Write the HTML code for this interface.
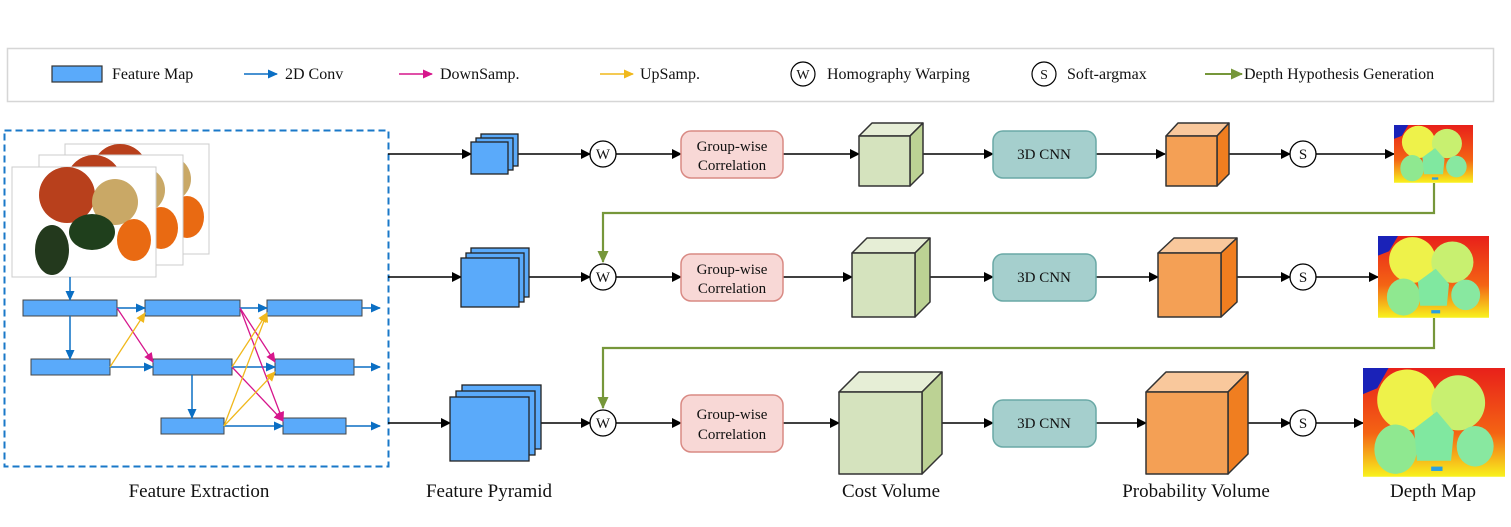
<!DOCTYPE html>
<html><head><meta charset="utf-8"><style>
html,body{margin:0;padding:0;background:#fff}
svg{display:block}
text{font-family:"Liberation Serif",serif;fill:#111}
</style></head><body>
<svg width="1511" height="527" viewBox="0 0 1511 527" xmlns="http://www.w3.org/2000/svg">
<defs>
<marker id="ak" markerWidth="10" markerHeight="10" refX="9" refY="5" orient="auto" markerUnits="userSpaceOnUse"><path d="M0,0 L10,5 L0,10 z" fill="#000"/></marker>
<marker id="ab" markerWidth="10" markerHeight="10" refX="9" refY="5" orient="auto" markerUnits="userSpaceOnUse"><path d="M0,0.5 L10,5 L0,9.5 z" fill="#0b6fc4"/></marker>
<marker id="am" markerWidth="10" markerHeight="10" refX="9" refY="5" orient="auto" markerUnits="userSpaceOnUse"><path d="M0,0.5 L10,5 L0,9.5 z" fill="#d6168c"/></marker>
<marker id="ay" markerWidth="10" markerHeight="10" refX="9" refY="5" orient="auto" markerUnits="userSpaceOnUse"><path d="M0,0.5 L10,5 L0,9.5 z" fill="#f0b81c"/></marker>
<marker id="ag" markerWidth="12" markerHeight="12" refX="11" refY="6" orient="auto" markerUnits="userSpaceOnUse"><path d="M0,0.5 L12,6 L0,11.5 z" fill="#76973a"/></marker>
<g id="fruit">
<rect x="0" y="0" width="144" height="110" fill="#fff" stroke="#ccc" stroke-width="1"/>
<circle cx="55" cy="28" r="28" fill="#b8401c"/>
<circle cx="103" cy="35" r="23" fill="#c9a866"/>
<ellipse cx="40" cy="83" rx="17" ry="25" fill="#23391d"/>
<ellipse cx="80" cy="65" rx="23" ry="18" fill="#1f3f1c"/>
<ellipse cx="122" cy="73" rx="17" ry="21" fill="#e96a12"/>
</g>
<linearGradient id="dm" x1="0" y1="0" x2="0" y2="1"><stop offset="0" stop-color="#e8201a"/><stop offset="0.6" stop-color="#f46414"/><stop offset="1" stop-color="#f8f21e"/></linearGradient>
<g id="depth">
<rect x="0" y="0" width="100" height="75" fill="url(#dm)"/>
<path d="M0,0 L18,0 L10,14 L0,18z" fill="#1a22b8"/>
<circle cx="31" cy="22" r="21" fill="#eef24a"/>
<circle cx="67" cy="24" r="19" fill="#c8f070"/>
<ellipse cx="23" cy="56" rx="15" ry="17" fill="#8fe890"/>
<path d="M36,42 L52,30 L64,44 L62,64 L38,64z" fill="#80e8a0"/>
<ellipse cx="79" cy="54" rx="13" ry="14" fill="#88e8a0"/>
<rect x="48" y="68" width="8" height="3" fill="#2aa0e0"/>
</g>
</defs>

<rect x="7.5" y="48.5" width="1486" height="53" fill="#fff" stroke="#d6d6d6" stroke-width="1.5"/>
<rect x="52" y="66" width="50" height="16" fill="#5aaafa" stroke="#333" stroke-width="1.2"/>
<text x="112" y="79" font-size="16">Feature Map</text>
<line x1="244" y1="74" x2="277" y2="74" stroke="#0b6fc4" stroke-width="1.6" marker-end="url(#ab)"/>
<text x="285" y="79" font-size="16">2D Conv</text>
<line x1="399" y1="74" x2="432" y2="74" stroke="#d6168c" stroke-width="1.6" marker-end="url(#am)"/>
<text x="440" y="79" font-size="16">DownSamp.</text>
<line x1="600" y1="74" x2="633" y2="74" stroke="#f0b81c" stroke-width="1.6" marker-end="url(#ay)"/>
<text x="640" y="79" font-size="16">UpSamp.</text>
<circle cx="803" cy="74" r="12" fill="#fff" stroke="#000" stroke-width="1.2"/>
<text x="803" y="79" font-size="14" text-anchor="middle">W</text>
<text x="827" y="79" font-size="16">Homography Warping</text>
<circle cx="1044" cy="74" r="12" fill="#fff" stroke="#000" stroke-width="1.2"/>
<text x="1044" y="79" font-size="14" text-anchor="middle">S</text>
<text x="1067" y="79" font-size="16">Soft-argmax</text>
<line x1="1205" y1="74" x2="1242" y2="74" stroke="#76973a" stroke-width="2" marker-end="url(#ag)"/>
<text x="1244" y="79" font-size="16">Depth Hypothesis Generation</text>

<rect x="4.5" y="130.5" width="384" height="336" fill="none" stroke="#1a78c8" stroke-width="2" stroke-dasharray="7,4"/>
<use href="#fruit" x="65" y="144"/>
<use href="#fruit" x="39" y="155"/>
<use href="#fruit" x="12" y="167"/>
<g fill="#5aaafa" stroke="#444" stroke-width="1">
<rect x="23" y="300" width="94" height="16"/><rect x="145" y="300" width="95" height="16"/><rect x="267" y="300" width="95" height="16"/>
<rect x="31" y="359" width="79" height="16"/><rect x="153" y="359" width="79" height="16"/><rect x="275" y="359" width="79" height="16"/>
<rect x="161" y="418" width="63" height="16"/><rect x="283" y="418" width="63" height="16"/>
</g>
<g stroke="#0b6fc4" stroke-width="1.5" fill="none">
<line x1="70" y1="277" x2="70" y2="300" marker-end="url(#ab)"/>
<line x1="70" y1="316" x2="70" y2="359" marker-end="url(#ab)"/>
<line x1="192" y1="375" x2="192" y2="418" marker-end="url(#ab)"/>
<line x1="117" y1="308" x2="145" y2="308" marker-end="url(#ab)"/>
<line x1="240" y1="308" x2="267" y2="308" marker-end="url(#ab)"/>
<line x1="362" y1="308" x2="380" y2="308" marker-end="url(#ab)"/>
<line x1="110" y1="367" x2="153" y2="367" marker-end="url(#ab)"/>
<line x1="232" y1="367" x2="275" y2="367" marker-end="url(#ab)"/>
<line x1="354" y1="367" x2="380" y2="367" marker-end="url(#ab)"/>
<line x1="224" y1="426" x2="283" y2="426" marker-end="url(#ab)"/>
<line x1="346" y1="426" x2="380" y2="426" marker-end="url(#ab)"/>
</g>
<g stroke="#d6168c" stroke-width="1.3" fill="none">
<line x1="117" y1="308" x2="153" y2="362" marker-end="url(#am)"/>
<line x1="240" y1="308" x2="275" y2="362" marker-end="url(#am)"/>
<line x1="240" y1="308" x2="283" y2="421" marker-end="url(#am)"/>
<line x1="232" y1="367" x2="283" y2="421" marker-end="url(#am)"/>
</g>
<g stroke="#f0b81c" stroke-width="1.3" fill="none">
<line x1="110" y1="367" x2="145" y2="313" marker-end="url(#ay)"/>
<line x1="232" y1="367" x2="267" y2="313" marker-end="url(#ay)"/>
<line x1="224" y1="426" x2="267" y2="313" marker-end="url(#ay)"/>
<line x1="224" y1="426" x2="275" y2="372" marker-end="url(#ay)"/>
</g>

<g stroke="#76973a" stroke-width="2.2" fill="none">
<polyline points="1434,183 1434,213 603,213 603,262" marker-end="url(#ag)"/>
<polyline points="1434,318 1434,348 603,348 603,408" marker-end="url(#ag)"/>
</g>

<g stroke="#000" stroke-width="1.6" fill="none">
<line x1="388" y1="154" x2="471" y2="154" marker-end="url(#ak)"/>
<line x1="518" y1="154" x2="590" y2="154" marker-end="url(#ak)"/>
<line x1="616" y1="154" x2="681" y2="154" marker-end="url(#ak)"/>
<line x1="783" y1="154" x2="859" y2="154" marker-end="url(#ak)"/>
<line x1="922" y1="154" x2="993" y2="154" marker-end="url(#ak)"/>
<line x1="1096" y1="154" x2="1165" y2="154" marker-end="url(#ak)"/>
<line x1="1228" y1="154" x2="1290" y2="154" marker-end="url(#ak)"/>
<line x1="1316" y1="154" x2="1394" y2="154" marker-end="url(#ak)"/>

<line x1="388" y1="277" x2="461" y2="277" marker-end="url(#ak)"/>
<line x1="529" y1="277" x2="590" y2="277" marker-end="url(#ak)"/>
<line x1="616" y1="277" x2="681" y2="277" marker-end="url(#ak)"/>
<line x1="783" y1="277" x2="852" y2="277" marker-end="url(#ak)"/>
<line x1="930" y1="277" x2="993" y2="277" marker-end="url(#ak)"/>
<line x1="1096" y1="277" x2="1158" y2="277" marker-end="url(#ak)"/>
<line x1="1237" y1="277" x2="1290" y2="277" marker-end="url(#ak)"/>
<line x1="1316" y1="277" x2="1378" y2="277" marker-end="url(#ak)"/>

<line x1="388" y1="423" x2="450" y2="423" marker-end="url(#ak)"/>
<line x1="541" y1="423" x2="590" y2="423" marker-end="url(#ak)"/>
<line x1="616" y1="423" x2="681" y2="423" marker-end="url(#ak)"/>
<line x1="783" y1="423" x2="839" y2="423" marker-end="url(#ak)"/>
<line x1="942" y1="423" x2="993" y2="423" marker-end="url(#ak)"/>
<line x1="1096" y1="423" x2="1146" y2="423" marker-end="url(#ak)"/>
<line x1="1248" y1="423" x2="1290" y2="423" marker-end="url(#ak)"/>
<line x1="1316" y1="423" x2="1363" y2="423" marker-end="url(#ak)"/>
</g>

<g fill="#5aaafa" stroke="#222" stroke-width="1.3">
<rect x="481" y="134" width="37" height="32"/><rect x="476" y="138" width="37" height="32"/><rect x="471" y="142" width="37" height="32"/>
<rect x="471" y="248" width="58" height="49"/><rect x="466" y="253" width="58" height="49"/><rect x="461" y="258" width="58" height="49"/>
<rect x="462" y="385" width="79" height="64"/><rect x="456" y="391" width="79" height="64"/><rect x="450" y="397" width="79" height="64"/>
</g>

<g font-size="15" text-anchor="middle">
<circle cx="603" cy="154" r="13" fill="#fff" stroke="#000" stroke-width="1.3"/><text x="603" y="159">W</text>
<circle cx="603" cy="277" r="13" fill="#fff" stroke="#000" stroke-width="1.3"/><text x="603" y="282">W</text>
<circle cx="603" cy="423" r="13" fill="#fff" stroke="#000" stroke-width="1.3"/><text x="603" y="428">W</text>
<circle cx="1303" cy="154" r="13" fill="#fff" stroke="#000" stroke-width="1.3"/><text x="1303" y="159">S</text>
<circle cx="1303" cy="277" r="13" fill="#fff" stroke="#000" stroke-width="1.3"/><text x="1303" y="282">S</text>
<circle cx="1303" cy="423" r="13" fill="#fff" stroke="#000" stroke-width="1.3"/><text x="1303" y="428">S</text>
</g>

<g fill="#f8d8d6" stroke="#d98a84" stroke-width="1.5">
<rect x="681" y="131" width="102" height="47" rx="10"/>
<rect x="681" y="254" width="102" height="47" rx="10"/>
<rect x="681" y="395" width="102" height="57" rx="10"/>
</g>
<g font-size="15" text-anchor="middle">
<text x="732" y="151">Group-wise</text><text x="732" y="170">Correlation</text>
<text x="732" y="274">Group-wise</text><text x="732" y="293">Correlation</text>
<text x="732" y="419">Group-wise</text><text x="732" y="439">Correlation</text>
</g>

<g fill="#a5cfcd" stroke="#6aa9a6" stroke-width="1.5">
<rect x="993" y="131" width="103" height="47" rx="10"/>
<rect x="993" y="254" width="103" height="47" rx="10"/>
<rect x="993" y="400" width="103" height="47" rx="10"/>
</g>
<g font-size="15" text-anchor="middle">
<text x="1044" y="159">3D CNN</text><text x="1044" y="282">3D CNN</text><text x="1044" y="428">3D CNN</text>
</g>

<g stroke="#333" stroke-width="1.5" stroke-linejoin="round">
<polygon points="859,136 872,123 923,123 910,136" fill="#e6eed6"/>
<polygon points="910,136 923,123 923,173 910,186" fill="#bcd294"/>
<rect x="859" y="136" width="51" height="50" fill="#d5e3be"/>

<polygon points="852,253 867,238 930,238 915,253" fill="#e6eed6"/>
<polygon points="915,253 930,238 930,302 915,317" fill="#bcd294"/>
<rect x="852" y="253" width="63" height="64" fill="#d5e3be"/>

<polygon points="839,392 859,372 942,372 922,392" fill="#e6eed6"/>
<polygon points="922,392 942,372 942,454 922,474" fill="#bcd294"/>
<rect x="839" y="392" width="83" height="82" fill="#d5e3be"/>

<polygon points="1166,136 1178,123 1229,123 1217,136" fill="#f9c89c"/>
<polygon points="1217,136 1229,123 1229,174 1217,186" fill="#f07e20"/>
<rect x="1166" y="136" width="51" height="50" fill="#f4a055"/>

<polygon points="1158,253 1174,238 1237,238 1221,253" fill="#f9c89c"/>
<polygon points="1221,253 1237,238 1237,302 1221,317" fill="#f07e20"/>
<rect x="1158" y="253" width="63" height="64" fill="#f4a055"/>

<polygon points="1146,392 1166,372 1248,372 1228,392" fill="#f9c89c"/>
<polygon points="1228,392 1248,372 1248,454 1228,474" fill="#f07e20"/>
<rect x="1146" y="392" width="82" height="82" fill="#f4a055"/>
</g>

<use href="#depth" transform="translate(1394,125) scale(0.79,0.77)"/>
<use href="#depth" transform="translate(1378,236) scale(1.11,1.09)"/>
<use href="#depth" transform="translate(1363,368) scale(1.42,1.45)"/>

<g font-size="19" text-anchor="middle">
<text x="199" y="497">Feature Extraction</text>
<text x="489" y="497">Feature Pyramid</text>
<text x="891" y="497">Cost Volume</text>
<text x="1196" y="497">Probability Volume</text>
<text x="1433" y="497">Depth Map</text>
</g>
</svg>
</body></html>
